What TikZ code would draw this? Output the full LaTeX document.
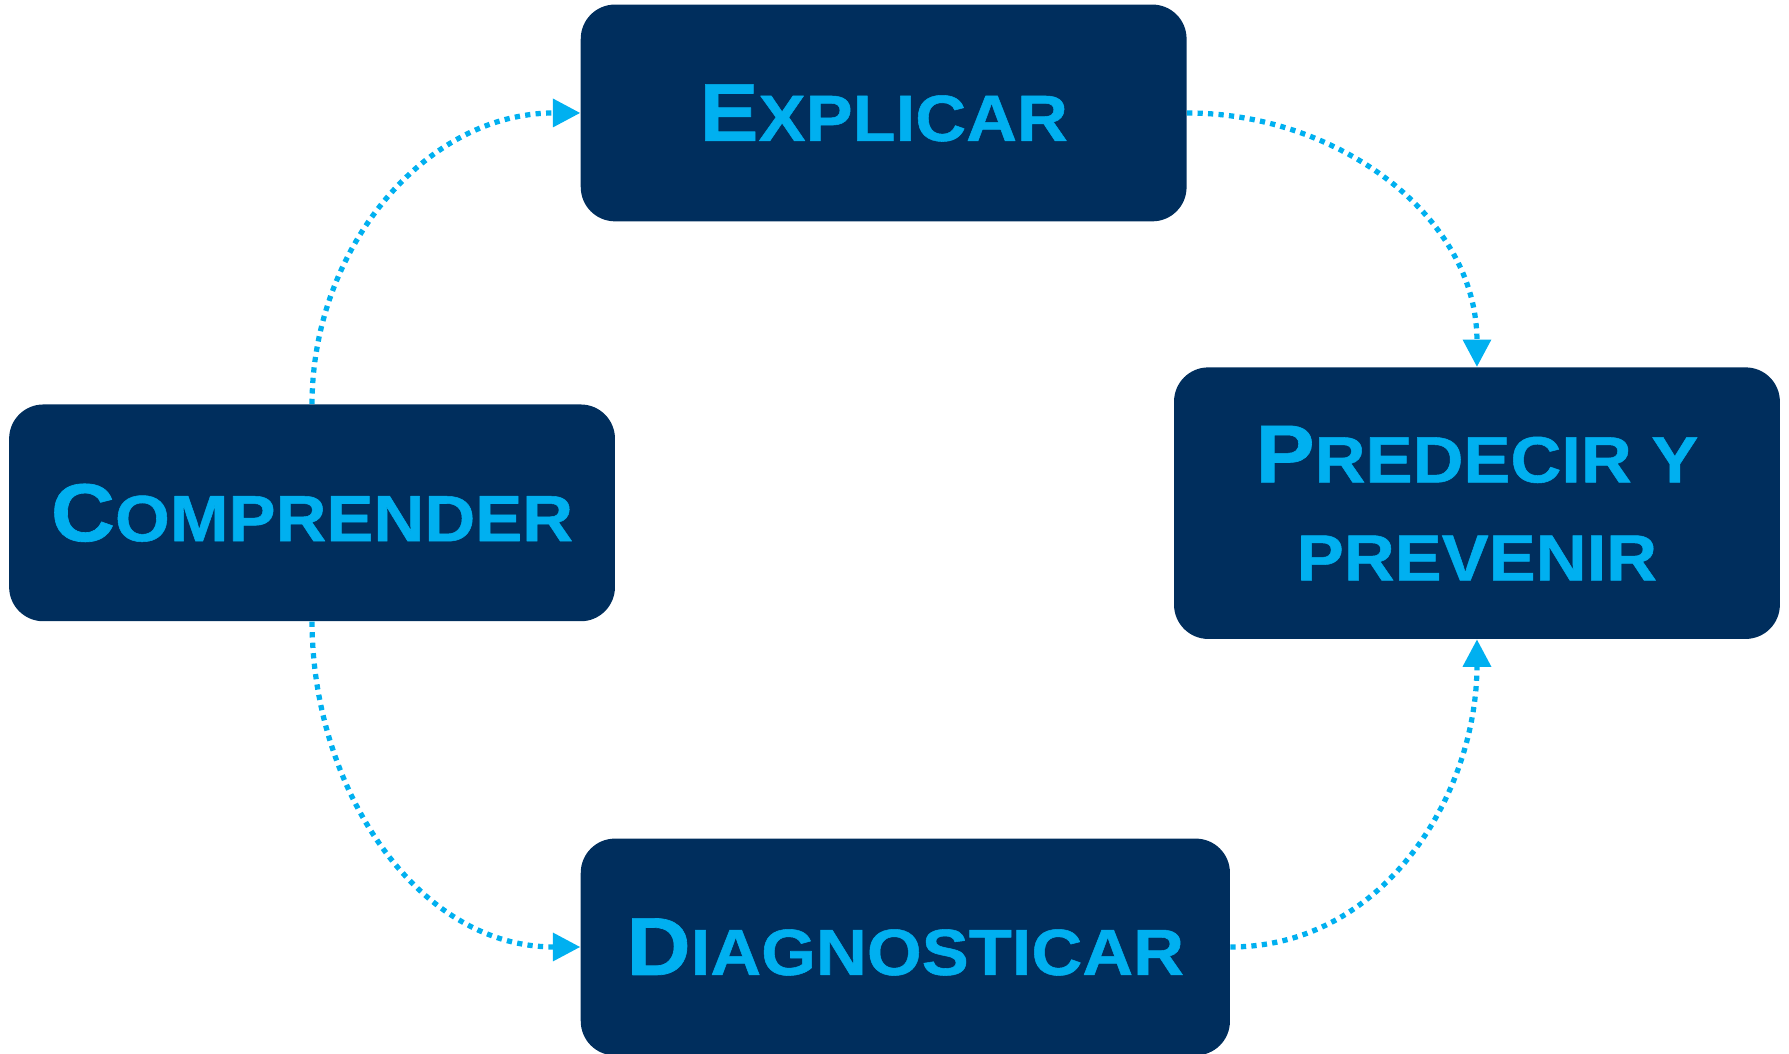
\documentclass[tikz,border=0pt]{standalone}
\usepackage{fontspec}
\setmainfont{Liberation Sans}[FakeStretch=1.08,BoldFont={Liberation Sans Bold},BoldFeatures={FakeBold=0.8}]
\usepackage{tikz}
\usetikzlibrary{arrows.meta}

\definecolor{navy}{RGB}{0,46,93}
\definecolor{celeste}{RGB}{0,176,240}
\newcommand{\grande}[1]{{\fontsize{36}{43}\selectfont #1}}
\newcommand{\chica}[1]{{\fontsize{28.6}{43}\selectfont #1}}

\begin{document}
\begin{tikzpicture}[line cap=butt,line join=round,x=0.5pt,y=0.5pt,
  >={Triangle[length=12pt,width=12pt]},
  caja/.style={rectangle,rounded corners=15pt,fill=navy,text=celeste,
    font=\fontsize{28.6}{43}\selectfont\bfseries,
    minimum width=265.5pt,minimum height=95pt,align=center,inner sep=0pt},
  flecha/.style={->,draw=celeste,line width=2.3pt,dash pattern=on 2.3pt off 2.3pt}]
\useasboundingbox (0,0) rectangle (1568,923);
\node[caja] (expl) at (774.5,824) {\grande{E}\chica{XPLICAR}};
\node[caja] (comp) at (273.5,473.5) {\grande{C}\chica{OMPRENDER}};
\node[caja,minimum height=119pt] (pred) at (1294.5,482) {\grande{P}\chica{REDECIR Y}\\\chica{PREVENIR}};
\node[caja,minimum width=284.5pt] (diag) at (793.5,93) {\grande{D}\chica{IAGNOSTICAR}};
\draw[flecha] (comp.north) to[out=90,in=180] (expl.west);
\draw[flecha] (expl.east) to[out=0,in=90] (pred.north);
\draw[flecha] (diag.east) to[out=0,in=-90] (pred.south);
\draw[flecha] (comp.south) to[out=-90,in=180] (diag.west);
\end{tikzpicture}
\end{document}
